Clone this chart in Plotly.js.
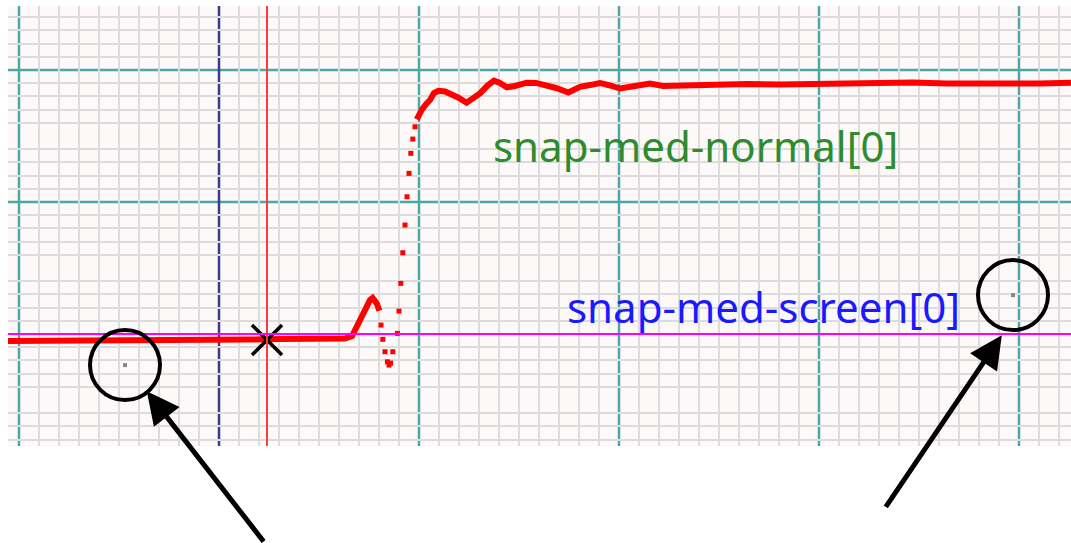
<!DOCTYPE html>
<html><head><meta charset="utf-8">
<script src="https://cdn.plot.ly/plotly-3.0.1.min.js"></script>
<style>html,body{margin:0;padding:0;background:#fff;}#chart{width:1071px;height:543px;}</style>
</head><body><div id="chart"></div>
<script>
// Trace values in grid units (x: divisions, y: divisions)
var normalLineX = [-0.55, 2.05, 5.05, 8.05, 10.7, 11.55, 13.05, 14.55, 15.55, 16.3, 16.65, 16.9, 17.15, 17.35, 17.55, 17.68, 17.8, 17.9, 18.02,
  null,
  19.89, 20.0, 20.13, 20.35, 20.55, 20.75, 20.97, 21.3, 21.55, 21.95, 22.38, 22.7, 23.05, 23.45, 23.75, 24.05, 24.39, 24.8, 25.39, 25.85, 26.39, 26.85, 27.47, 27.75, 28.05, 28.55, 29.05, 29.55, 30.05, 30.8, 31.55, 32.2, 33.05, 33.9, 35.05, 36.4, 38.05, 39.7, 41.55, 43.05, 44.7, 46.4, 48.05, 49.2, 51.05, 52.6];
var normalLineY = [-10.53, -10.53, -10.53, -10.49, -10.45, -10.42, -10.38, -10.38, -10.42, -10.34, -10.15, -9.47, -8.79, -8.03, -7.42, -7.27, -7.5, -7.73, -8.23,
  null,
  6.27, 6.67, 6.97, 7.42, 7.73, 8.26, 8.43, 8.37, 8.23, 7.92, 7.52, 7.88, 8.23, 8.86, 9.2, 9.02, 8.69, 8.79, 9.04, 9.02, 8.86, 8.64, 8.3, 8.48, 8.73, 8.86, 9.02, 8.83, 8.6, 8.79, 8.98, 8.79, 8.83, 8.86, 8.86, 8.94, 8.9, 8.94, 8.94, 8.98, 9.05, 8.98, 8.94, 9.02, 8.98, 9.04];
var normalDotsX = [18.1, 18.19, 18.3, 18.42, 18.5, 18.58, 18.69, 18.92, 19.0, 19.09, 19.19, 19.3, 19.4, 19.5, 19.59, 19.69, 19.8];
var normalDotsY = [-9.32, -10.4, -11.34, -12.1, -12.35, -12.2, -11.34, -9.95, -8.26, -6.16, -3.84, -1.74, 0.4, 2.17, 3.69, 4.77, 5.7];
var screenX = [5.3, 49.7];
var screenY = [-12.35, -7.05];
var cursorX = [12.4];
var cursorY = [-10.45];
var screenLevel = -10;
var refLineX = 10;
var majorX = [0, 20, 30, 40, 50];
var majorY = [10, 0];
var labels = ["snap-med-normal[0]", "snap-med-screen[0]"];

var traces = [
  {x: normalLineX, y: normalLineY, mode: 'lines', line: {color: '#ff0000', width: 6}, connectgaps: false, hoverinfo: 'skip'},
  {x: normalDotsX, y: normalDotsY, mode: 'markers', marker: {color: '#ff0000', symbol: 'square', size: 5}, hoverinfo: 'skip'},
  {x: screenX, y: screenY, mode: 'markers', marker: {color: '#888888', symbol: 'square', size: 4}, hoverinfo: 'skip'},
  {x: cursorX, y: cursorY, mode: 'markers', marker: {color: '#000', symbol: 'x-thin', size: 30, line: {color: '#000', width: 3.5}}, hoverinfo: 'skip'}
];

function circ(cx, cy, r) {
  return {type: 'circle', xref: 'x', yref: 'y', xsizemode: 'pixel', ysizemode: 'pixel', xanchor: cx, yanchor: cy,
    x0: -r, x1: r, y0: -r, y1: r, line: {color: '#000', width: 4}, layer: 'above'};
}
var shapes = [];
majorX.forEach(function (v) {
  shapes.push({type: 'line', xref: 'x', yref: 'paper', x0: v, x1: v, y0: 0, y1: 1, line: {color: '#4fa6a6', width: 2.5}, layer: 'below'});
});
majorY.forEach(function (v) {
  shapes.push({type: 'line', xref: 'paper', yref: 'y', x0: 0, x1: 1, y0: v, y1: v, line: {color: '#4fa6a6', width: 2.5}, layer: 'below'});
});
shapes.push({type: 'line', xref: 'x', yref: 'paper', x0: refLineX, x1: refLineX, y0: 0, y1: 1, line: {color: '#3b3b8e', width: 2.5}, layer: 'below'});
shapes.push({type: 'line', xref: 'x', yref: 'paper', x0: cursorX[0], x1: cursorX[0], y0: 0, y1: 1, line: {color: '#ff3a3a', width: 2}, layer: 'above'});
shapes.push({type: 'line', xref: 'paper', yref: 'y', x0: 0, x1: 1, y0: screenLevel, y1: screenLevel, line: {color: '#ff00ff', width: 2}, layer: 'above'});
shapes.push(circ(screenX[0], screenY[0], 35));
shapes.push(circ(screenX[1], screenY[1], 35));

var layout = {
  width: 1071, height: 543,
  margin: {l: 8, r: 0, t: 6, b: 97, pad: 0},
  paper_bgcolor: '#ffffff', plot_bgcolor: '#fdf9f8',
  showlegend: false,
  xaxis: {range: [-0.55, 52.6], showgrid: false,
    minor: {dtick: 1, tick0: 0, showgrid: true, gridcolor: '#dcdcdc', gridwidth: 2},
    zeroline: false, showticklabels: false, ticks: '', showline: false, fixedrange: true},
  yaxis: {range: [-18.48, 14.85], showgrid: false,
    minor: {dtick: 1, tick0: 0, showgrid: true, gridcolor: '#dcdcdc', gridwidth: 2},
    zeroline: false, showticklabels: false, ticks: '', showline: false, fixedrange: true},
  shapes: shapes,
  annotations: [
    {x: 33.8, y: 4.32, xref: 'x', yref: 'y', text: labels[0], showarrow: false, font: {family: 'Noto Sans, Open Sans, sans-serif', size: 42, color: '#2e8b2e'}},
    {x: 37.2, y: -7.95, xref: 'x', yref: 'y', text: labels[1], showarrow: false, font: {family: 'Noto Sans, Open Sans, sans-serif', size: 42, color: '#1a1aff'}},
    {x: 6.39, y: -14.33, xref: 'x', yref: 'y', text: '', showarrow: true, arrowhead: 2, arrowsize: 1.3, arrowwidth: 5, arrowcolor: '#000', ax: 118, ay: 152, standoff: 0},
    {x: 49.14, y: -10.1, xref: 'x', yref: 'y', text: '', showarrow: true, arrowhead: 2, arrowsize: 1.3, arrowwidth: 5, arrowcolor: '#000', ax: -117, ay: 173, standoff: 0}
  ]
};
Plotly.newPlot('chart', traces, layout, {staticPlot: true, displayModeBar: false});
</script></body></html>
